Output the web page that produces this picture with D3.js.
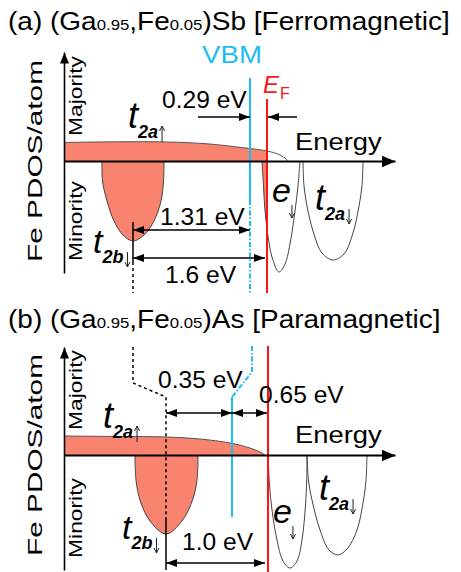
<!DOCTYPE html>
<html>
<head>
<meta charset="utf-8">
<script src="https://cdn.jsdelivr.net/npm/d3@7"></script>
<style>
  body { margin: 0; background: #fff; }
  svg { display: block; }
  text { font-family: Arial, "Liberation Sans", sans-serif; }
</style>
</head>
<body>
<svg id="fig" width="461" height="572"></svg>
<script>
var width = 461, height = 572;

// titles: normal / subscript pieces alternate
var titleA = ["(a) (Ga", "0.95", ",Fe", "0.05", ")Sb [Ferromagnetic]"];
var titleB = ["(b) (Ga", "0.95", ",Fe", "0.05", ")As [Paramagnetic]"];

// schematic energy axis (E_F = 0) and PDOS axis of each panel
var energyDomain = [-2.03, 1.28];
var dosDomainA = [-11.2, 10.9];
var dosDomainB = [-11.5, 10.8];

// majority PDOS (t2a up), [E, DOS]
var majorityA = [[-2.03, 1.85], [-1.5, 1.92], [-1.0, 1.9], [-0.6, 1.72], [-0.3, 1.4], [0.0, 1.0], [0.12, 0.65], [0.18, 0.3], [0.21, 0]];
var majorityB = [[-2.03, 1.9], [-1.5, 1.85], [-1.0, 1.8], [-0.67, 1.6], [-0.37, 1.2], [-0.17, 0.7], [-0.06, 0.25], [-0.02, 0]];

// minority PDOS bands, [E, DOS]
var t2bDownA = [[-1.65, 0], [-1.645, -2], [-1.6, -4], [-1.53, -6], [-1.44, -7.4], [-1.34, -8.0], [-1.23, -7.4], [-1.13, -6], [-1.06, -4], [-1.035, -2], [-1.03, 0]];
var eDownA = [[-0.05, 0], [-0.035, -2.5], [-0.02, -5], [0.01, -7.5], [0.05, -9.6], [0.12, -11.1], [0.18, -10.3], [0.235, -8], [0.28, -5], [0.31, -2.5], [0.33, 0]];
var t2aDownA = [[0.36, 0], [0.37, -2.5], [0.4, -4.5], [0.46, -7], [0.55, -9.2], [0.66, -9.9], [0.77, -9.3], [0.86, -7.2], [0.92, -4.5], [0.95, -2.5], [0.96, 0]];

var t2bDownB = [[-1.32, 0], [-1.31, -2.5], [-1.27, -4.5], [-1.17, -6.6], [-1.01, -7.9], [-0.85, -6.6], [-0.745, -4.5], [-0.7, -2.5], [-0.69, 0]];
var eDownB = [[0.01, 0], [0.025, -3], [0.05, -5.5], [0.1, -8.5], [0.16, -10.6], [0.23, -11.3], [0.3, -10.6], [0.35, -8.5], [0.385, -5], [0.397, -2.5], [0.4, 0]];
var t2aDownB = [[0.4, 0], [0.415, -2.5], [0.45, -4.5], [0.53, -7.5], [0.62, -9.5], [0.71, -10], [0.8, -9.4], [0.9, -7.5], [0.965, -4.5], [0.99, -2.5], [1.0, 0]];

// level markers: t2b peak, VBM, E_F
var levelsA = [-1.34, -0.17, 0];
var levelsB = [-1.01, -0.35, 0];

// energy gap labels
var gapLabelsA = ["0.29 eV", "1.31 eV", "1.6 eV"];
var gapLabelsB = ["0.35 eV", "0.65 eV", "1.0 eV"];

var salmon = "#f8836e", cyan = "#1dbdf0", red = "#ff1414";

var svg = d3.select("#fig");
var defs = svg.append("defs");

var x = d3.scaleLinear().domain(energyDomain).range([64, 395]);
var yA = d3.scaleLinear().domain(dosDomainA).range([273, 52]);
var yB = d3.scaleLinear().domain(dosDomainB).range([570, 347]);

function marker(id, w, l) {
  defs.append("marker")
    .attr("id", id)
    .attr("viewBox", "0 " + (-w / 2) + " " + l + " " + w)
    .attr("refX", l).attr("refY", 0)
    .attr("markerWidth", l).attr("markerHeight", w)
    .attr("markerUnits", "userSpaceOnUse")
    .attr("orient", "auto-start-reverse")
    .append("path")
    .attr("d", "M0," + (-w / 2) + "L" + l + ",0L0," + (w / 2) + "Z")
    .attr("fill", "#000");
}
marker("axhead", 12, 14);
marker("ayhead", 9, 11);
marker("head", 8, 11);

// stretched text helper
function txt(g, px, py, str, size, sx, opts) {
  opts = opts || {};
  var t = g.append("text")
    .attr("transform", "translate(" + px + "," + py + ")" + (opts.rotate ? " rotate(-90)" : "") + " scale(" + sx + ",1)")
    .attr("font-size", size)
    .attr("fill", opts.fill || "#000")
    .attr("text-anchor", opts.anchor || "start")
    .attr("font-style", opts.italic ? "italic" : null);
  if (str != null) t.text(str);
  return t;
}

function title(pieces, py) {
  var t = txt(svg, 8, py, null, 25, 1.12);
  pieces.forEach(function(s, i) {
    t.append("tspan").attr("font-size", i % 2 ? 15 : 25).text(s);
  });
}

// thin spin arrow drawn as a path
function spinArrow(g, ax, y1, y2) {
  var dir = y2 < y1 ? 1 : -1;
  g.append("path")
    .attr("d", "M" + ax + "," + y1 + "V" + y2 +
      "M" + (ax - 2.5) + "," + (y2 + dir * 5) + "L" + ax + "," + y2 + "L" + (ax + 2.5) + "," + (y2 + dir * 5))
    .attr("fill", "none").attr("stroke", "#222").attr("stroke-width", 1);
}

// band label like t_{2a} with spin arrow
function bandLabel(g, px, py, b) {
  var t = txt(g, px, py, null, 1, 1);
  t.append("tspan").attr("font-style", "italic").attr("font-size", b.size).text(b.main);
  if (b.sub) t.append("tspan").attr("font-style", "italic").attr("font-weight", "bold")
    .attr("font-size", 18).attr("dx", 0).attr("dy", 10).text(b.sub);
  var right = px + t.node().getBBox().width;
  var base = py + (b.sub ? 10 : 0);
  if (b.up) spinArrow(g, right + 4, base + 4, base - 12);
  else if (b.sub) spinArrow(g, right + 4, base - 11, base + 4);
  else spinArrow(g, right + 1, base + 3, base + 16);
}

function drawPanel(p) {
  var y = p.y;
  var g = svg.append("g");
  var clipId = "clip" + p.id;
  defs.append("clipPath").attr("id", clipId).append("rect")
    .attr("x", 0).attr("y", 0).attr("width", x(0)).attr("height", height);

  var line = d3.line().x(function(d) { return x(d[0]); }).y(function(d) { return y(d[1]); })
    .curve(d3.curveCatmullRom.alpha(0.5));
  var area = d3.area().x(function(d) { return x(d[0]); }).y0(y(0)).y1(function(d) { return y(d[1]); })
    .curve(d3.curveCatmullRom.alpha(0.5));

  // majority band
  g.append("path").attr("d", area(p.majority)).attr("fill", salmon)
    .attr("clip-path", "url(#" + clipId + ")");
  g.append("path").attr("d", line(p.majority)).attr("fill", "none")
    .attr("stroke", "#555").attr("stroke-width", 1);

  // minority bands
  p.bands.forEach(function(b) {
    if (b.fill === "full") {
      g.append("path").attr("d", line(b.data) + "Z").attr("fill", salmon);
    } else if (b.fill === "belowEF") {
      g.append("path").attr("d", line(b.data) + "Z").attr("fill", salmon)
        .attr("clip-path", "url(#" + clipId + ")");
    }
    g.append("path").attr("d", line(b.data)).attr("fill", "none")
      .attr("stroke", "#444").attr("stroke-width", 1);
  });

  // guide lines
  var poly = d3.line().x(function(d) { return x(d[0]); }).y(function(d) { return y(d[1]); });
  p.guides.forEach(function(l) {
    g.append("path").attr("d", poly(l.pts)).attr("fill", "none")
      .attr("stroke", l.color).attr("stroke-width", l.w)
      .attr("stroke-dasharray", l.dash || null);
  });

  // axes (no ticks, arrow heads only)
  var xg = g.append("g").attr("transform", "translate(0," + y(0) + ")")
    .call(d3.axisBottom(x).tickValues([]).tickSizeOuter(0));
  xg.select(".domain").attr("stroke", "#000").attr("stroke-width", 2).attr("marker-end", "url(#axhead)");
  var yg = g.append("g").attr("transform", "translate(" + x(energyDomain[0]) + ",0)")
    .call(d3.axisLeft(y).tickValues([]).tickSizeOuter(0));
  yg.select(".domain").attr("stroke", "#000").attr("stroke-width", 1.6).attr("marker-end", "url(#ayhead)");

  // gap arrows
  p.gaps.forEach(function(a) {
    var l = g.append("line")
      .attr("x1", x(a.from)).attr("x2", x(a.to))
      .attr("y1", y(a.dos)).attr("y2", y(a.dos))
      .attr("stroke", "#000").attr("stroke-width", 1.5)
      .attr("marker-end", "url(#head)");
    if (a.both) l.attr("marker-start", "url(#head)");
  });
  p.gapText.forEach(function(a) {
    txt(g, x(a.e), y(a.dos), a.label, 23, 1.07);
  });

  // axis titles
  txt(g, 42, y(0), "Fe PDOS/atom", 21, 1.42, {rotate: true, anchor: "middle"});
  txt(g, 82, y(p.majPos), "Majority", 19, 1.2, {rotate: true, anchor: "middle"});
  txt(g, 82, y(p.minPos), "Minority", 19, 1.2, {rotate: true, anchor: "middle"});
  txt(g, x(0.28), y(p.energyPos), "Energy", 24, 1.14);

  // band labels
  p.labels.forEach(function(b) {
    bandLabel(g, x(b.e), y(b.dos), b);
  });
}

title(titleA, 30);
title(titleB, 328);

drawPanel({
  id: "A", y: yA, majority: majorityA,
  bands: [
    {data: t2bDownA, fill: "full"},
    {data: eDownA, fill: "belowEF"},
    {data: t2aDownA, fill: "none"}
  ],
  guides: [
    {pts: [[levelsA[0], -6.1], [levelsA[0], -10.1]], color: "#000", w: 1.5},
    {pts: [[levelsA[0], -10.1], [levelsA[0], -13.2]], color: "#000", w: 1.5, dash: "3,3"},
    {pts: [[levelsA[1], 8.3], [levelsA[1], -3.9]], color: cyan, w: 2},
    {pts: [[levelsA[1], -3.9], [levelsA[1], -13.2]], color: cyan, w: 2, dash: "5,2,1.5,2"},
    {pts: [[levelsA[2], 6.2], [levelsA[2], -13.2]], color: red, w: 2}
  ],
  gaps: [
    {from: -0.69, to: levelsA[1], dos: 4.4},
    {from: 0.3, to: levelsA[2] + 0.01, dos: 4.4},
    {from: levelsA[0], to: levelsA[1], dos: -6.9, both: true},
    {from: levelsA[0], to: levelsA[2] - 0.02, dos: -9.7, both: true}
  ],
  gapText: [
    {label: gapLabelsA[0], e: -1.05, dos: 5.3},
    {label: gapLabelsA[1], e: -1.07, dos: -6.4},
    {label: gapLabelsA[2], e: -1.02, dos: -12.2}
  ],
  majPos: 6.5, minPos: -6.0, energyPos: 1.1,
  labels: [
    {main: "t", sub: "2a", up: true, e: -1.39, dos: 3.3, size: 36},
    {main: "t", sub: "2b", up: false, e: -1.74, dos: -9.2, size: 34},
    {main: "e", sub: null, up: false, e: 0.05, dos: -4.1, size: 34},
    {main: "t", sub: "2a", up: false, e: 0.48, dos: -4.9, size: 36}
  ]
});

drawPanel({
  id: "B", y: yB, majority: majorityB,
  bands: [
    {data: t2bDownB, fill: "full"},
    {data: eDownB, fill: "none"},
    {data: t2aDownB, fill: "none"}
  ],
  guides: [
    {pts: [[levelsA[0], 10.8], [levelsA[0], 7.2], [levelsB[0], 5.8], [levelsB[0], -6.5]], color: "#000", w: 1.5, dash: "3,3"},
    {pts: [[levelsB[0], -6.5], [levelsB[0], -11.5]], color: "#000", w: 1.5},
    {pts: [[levelsA[1] + 0.02, 10.9], [levelsA[1] + 0.02, 8.3], [levelsB[1], 5.8]], color: cyan, w: 2, dash: "5,2,1.5,2"},
    {pts: [[levelsB[1], 5.8], [levelsB[1], -6.2]], color: cyan, w: 2},
    {pts: [[levelsB[2] + 0.01, 10.9], [levelsB[2] + 0.01, -11.7]], color: red, w: 2}
  ],
  gaps: [
    {from: levelsB[0], to: levelsB[1], dos: 4.2, both: true},
    {from: levelsB[1], to: levelsB[2], dos: 4.2, both: true},
    {from: levelsB[0], to: levelsB[2] - 0.02, dos: -10.8, both: true}
  ],
  gapText: [
    {label: gapLabelsB[0], e: -1.09, dos: 6.7},
    {label: gapLabelsB[1], e: -0.08, dos: 5.2},
    {label: gapLabelsB[2], e: -0.85, dos: -9.5}
  ],
  majPos: 6.5, minPos: -6.3, energyPos: 1.2,
  labels: [
    {main: "t", sub: "2a", up: true, e: -1.64, dos: 2.7, size: 36},
    {main: "t", sub: "2b", up: false, e: -1.45, dos: -8.4, size: 34},
    {main: "e", sub: null, up: false, e: 0.06, dos: -6.8, size: 34},
    {main: "t", sub: "2a", up: false, e: 0.52, dos: -4.5, size: 36}
  ]
});

// VBM and E_F labels (panel a)
txt(svg, x(-0.35), yA(9.8), "VBM", 24, 1.15, {fill: cyan, anchor: "middle"});
var ef = txt(svg, x(-0.04), yA(6.8), null, 1, 1, {fill: red});
ef.append("tspan").attr("font-style", "italic").attr("font-size", 24).text("E");
ef.append("tspan").attr("font-size", 16).attr("dx", 1).attr("dy", 6).text("F");
</script>
</body>
</html>
